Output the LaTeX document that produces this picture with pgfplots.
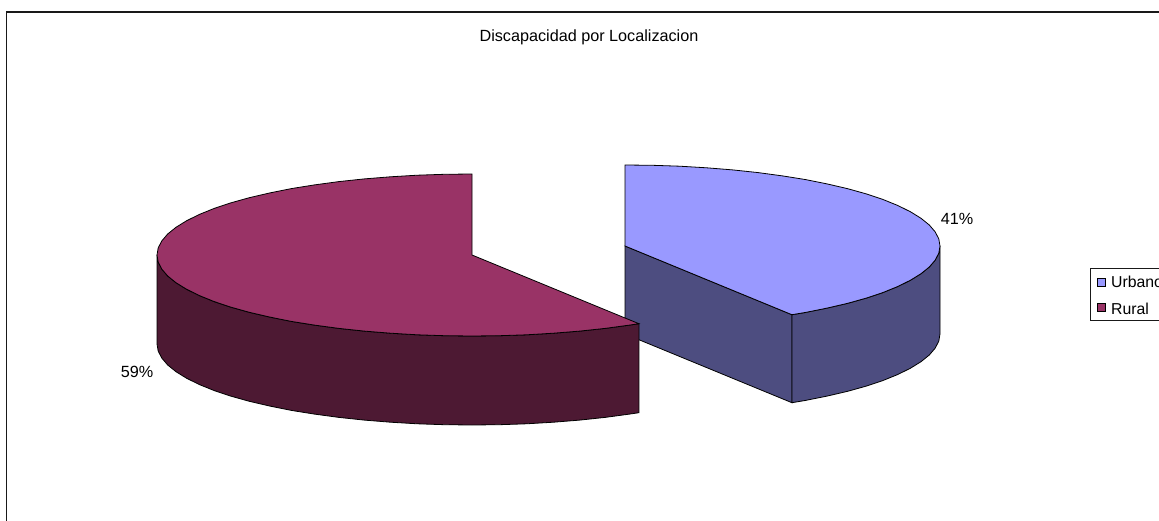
\documentclass[border=0pt]{standalone}
\usepackage{pgfplots}
\usepackage{fontspec}
\setmainfont{Liberation Sans}
\pgfplotsset{compat=1.18}
\definecolor{bluetop}{HTML}{9999FF}
\definecolor{bluewall}{HTML}{4D4D80}
\definecolor{redtop}{HTML}{993366}
\definecolor{redwall}{HTML}{4D1933}
\tikzset{lab/.style={font=\fontsize{16.2}{18}\selectfont, text=black, inner sep=0pt},
         leg/.style={font=\fontsize{15.8}{18}\selectfont, text=black, inner sep=0pt}}
\begin{document}
\begin{tikzpicture}
\path[use as bounding box] (0,0) rectangle (1159pt,521pt);
\begin{axis}[
  at={(0,0)}, anchor=south west,
  scale only axis, width=1159pt, height=521pt,
  xmin=0, xmax=1159, ymin=0, ymax=521, y dir=reverse,
  axis lines=none, clip=true,
]
% chart frame
\addplot[black!90, line width=1.4pt] coordinates {(6.5,530) (6.5,12) (1170,12)};
% Urbano: cut face
\addplot[draw=black, fill=bluewall, line width=0.8pt] coordinates {(625,246) (791.9,314.7) (791.9,402.7) (625,334)} -- cycle;
% Urbano: outer wall
\addplot[draw=black, fill=bluewall, line width=0.8pt] coordinates {
(940,246) (938.8,253.1) (935.2,260.1) (929.3,267) (921,273.7) (910.5,280.2) (897.8,286.5) (883,292.5) (866.3,298.1) (847.7,303.3) (827.5,308) (805.7,312.4) (791.9,314.7)
(791.9,402.7) (805.7,400.4) (827.5,396) (847.7,391.3) (866.3,386.1) (883,380.5) (897.8,374.5) (910.5,368.2) (921,361.7) (929.3,355) (935.2,348.1) (938.8,341.1) (940,334)} -- cycle;
% Urbano: top
\addplot[draw=black, fill=bluetop, line width=0.8pt] coordinates {
(625,246) (625,165) (652.5,165.3) (679.7,166.2) (706.5,167.8) (732.7,169.9) (758.1,172.6) (782.5,175.9) (805.7,179.6) (827.5,184) (847.7,188.7) (866.3,193.9) (883,199.5) (897.8,205.5) (910.5,211.8) (921,218.3) (929.3,225) (935.2,231.9) (938.8,238.9) (940,246)
(938.8,253.1) (935.2,260.1) (929.3,267) (921,273.7) (910.5,280.2) (897.8,286.5) (883,292.5) (866.3,298.1) (847.7,303.3) (827.5,308) (805.7,312.4) (791.9,314.7)} -- cycle;
% Rural: outer wall
\addplot[draw=black, fill=redwall, line width=0.8pt] coordinates {
(638.9,323.7) (629.5,325.1) (605.1,328.4) (579.7,331.1) (553.5,333.2) (526.7,334.8) (499.5,335.7) (472,336) (444.5,335.7) (417.3,334.8) (390.5,333.2) (364.3,331.1) (338.9,328.4) (314.5,325.1) (291.3,321.4) (269.5,317) (249.3,312.3) (230.7,307.1) (214,301.5) (199.2,295.5) (186.5,289.2) (176,282.7) (167.7,276) (161.8,269.1) (158.2,262.1) (157,255)
(157,344) (158.2,351.1) (161.8,358.1) (167.7,365) (176,371.7) (186.5,378.2) (199.2,384.5) (214,390.5) (230.7,396.1) (249.3,401.3) (269.5,406) (291.3,410.4) (314.5,414.1) (338.9,417.4) (364.3,420.1) (390.5,422.2) (417.3,423.8) (444.5,424.7) (472,425) (499.5,424.7) (526.7,423.8) (553.5,422.2) (579.7,420.1) (605.1,417.4) (629.5,414.1) (638.9,412.7)} -- cycle;
% Rural: top
\addplot[draw=black, fill=redtop, line width=0.8pt] coordinates {
(472,255) (638.9,323.7) (629.5,325.1) (605.1,328.4) (579.7,331.1) (553.5,333.2) (526.7,334.8) (499.5,335.7) (472,336) (444.5,335.7) (417.3,334.8) (390.5,333.2) (364.3,331.1) (338.9,328.4) (314.5,325.1) (291.3,321.4) (269.5,317) (249.3,312.3) (230.7,307.1) (214,301.5) (199.2,295.5) (186.5,289.2) (176,282.7) (167.7,276) (161.8,269.1) (158.2,262.1) (157,255)
(158.2,247.9) (161.8,240.9) (167.7,234) (176,227.3) (186.5,220.8) (199.2,214.5) (214,208.5) (230.7,202.9) (249.3,197.7) (269.5,193) (291.3,188.6) (314.5,184.9) (338.9,181.6) (364.3,178.9) (390.5,176.8) (417.3,175.2) (444.5,174.3) (472,174)} -- cycle;
% legend box and swatches
\addplot[draw=black!90, fill=white, line width=0.9pt] coordinates {(1090.5,268) (1175,268) (1175,320) (1090.5,320)} -- cycle;
\addplot[draw=black, fill=bluetop, line width=0.9pt] coordinates {(1097.5,278.5) (1105.5,278.5) (1105.5,286.5) (1097.5,286.5)} -- cycle;
\addplot[draw=black, fill=redtop, line width=0.9pt] coordinates {(1097.5,303.5) (1105.5,303.5) (1105.5,311.5) (1097.5,311.5)} -- cycle;
\node[leg, anchor=base west] at (1111,288) {Urbano};
\node[leg, anchor=base west] at (1111,314) {Rural};
\node[lab, anchor=base] at (589,42) {Discapacidad por Localizacion};
\node[lab] at (957,219) {41\%};
\node[lab] at (137,372) {59\%};
\end{axis}
\end{tikzpicture}
\end{document}
